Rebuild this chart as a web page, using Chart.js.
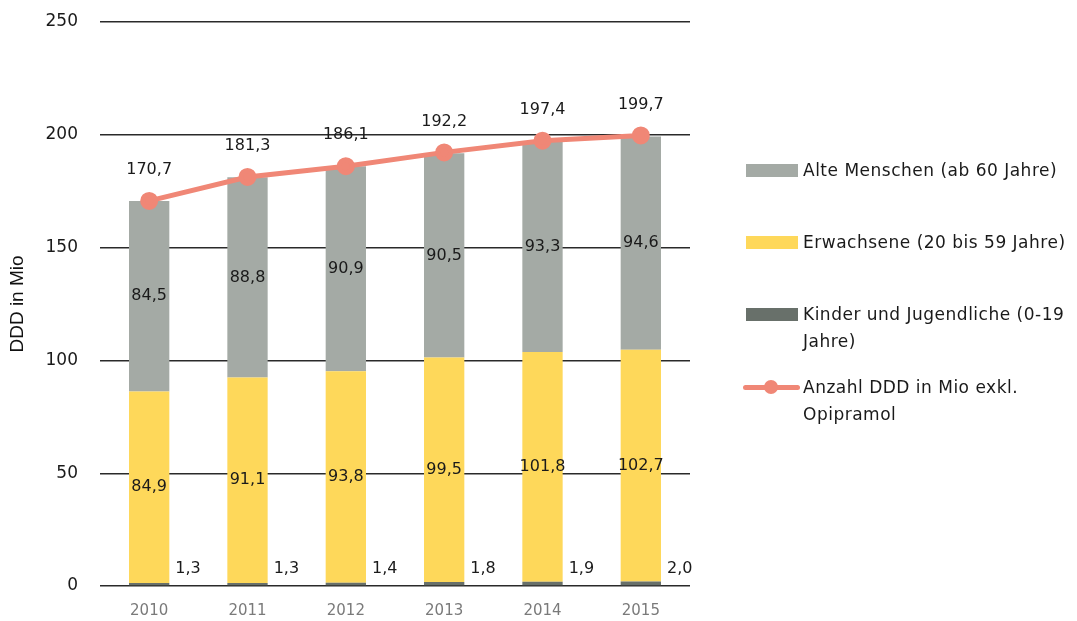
<!DOCTYPE html>
<html>
<head>
<meta charset="utf-8">
<script src="https://cdn.jsdelivr.net/npm/chart.js@4.4.1/dist/chart.umd.min.js"></script>
<style>
  html, body { margin: 0; padding: 0; background: #fff; }
  #wrap { position: relative; width: 1077px; height: 621px; }
  #legend { position: absolute; left: 0; top: 0; font-family: "DejaVu Sans", sans-serif; font-size: 17px; letter-spacing: 0.5px; color: #1a1a1a; }
  .item { position: absolute; left: 803px; line-height: 27px; white-space: nowrap; }
  .sw { position: absolute; width: 52px; height: 13px; }
</style>
</head>
<body>
<div id="wrap">
  <canvas id="chart" width="1077" height="621"></canvas>
  <div id="legend"></div>
</div>
<script>
const years = ['2010', '2011', '2012', '2013', '2014', '2015'];
const kinder = [1.3, 1.3, 1.4, 1.8, 1.9, 2.0];
const erwachsene = [84.9, 91.1, 93.8, 99.5, 101.8, 102.7];
const alte = [84.5, 88.8, 90.9, 90.5, 93.3, 94.6];
const gesamt = [170.7, 181.3, 186.1, 192.2, 197.4, 199.7];
const yTicks = [0, 50, 100, 150, 200, 250];

const C_ALTE = '#a4aaa5';
const C_ERW = '#fed85a';
const C_KIND = '#68706a';
const C_LINE = '#f08776';

const fmt = v => v.toFixed(1).replace('.', ',');

// draws the value labels
const labelPlugin = {
  id: 'labels',
  afterDatasetsDraw(chart) {
    const ctx = chart.ctx;
    ctx.save();
    ctx.font = '16px "DejaVu Sans", sans-serif';
    ctx.fillStyle = '#1a1a1a';
    ctx.textBaseline = 'middle';
    chart.data.datasets.forEach((ds, i) => {
      const meta = chart.getDatasetMeta(i);
      meta.data.forEach((el, j) => {
        const txt = fmt(ds.data[j]);
        if (ds.type === 'line') {
          ctx.textAlign = 'center';
          ctx.fillText(txt, el.x, el.y - 31);
        } else if (ds.key === 'kinder') {
          ctx.textAlign = 'left';
          ctx.fillText(txt, el.x + el.width / 2 + 6, el.base - 16);
        } else {
          ctx.textAlign = 'center';
          ctx.fillText(txt, el.x, (el.y + el.base) / 2);
        }
      });
    });
    ctx.restore();
  }
};

new Chart(document.getElementById('chart'), {
  data: {
    labels: years,
    datasets: [
      { type: 'line', label: 'Anzahl DDD in Mio exkl. Opipramol', data: gesamt, borderColor: C_LINE, backgroundColor: C_LINE,
        borderWidth: 5, pointRadius: 6.5, pointHoverRadius: 6.5, tension: 0, stack: 'line', order: 0 },
      { type: 'bar', key: 'kinder', label: 'Kinder und Jugendliche (0-19 Jahre)', data: kinder, backgroundColor: C_KIND, stack: 'a', order: 1 },
      { type: 'bar', key: 'erw', label: 'Erwachsene (20 bis 59 Jahre)', data: erwachsene, backgroundColor: C_ERW, stack: 'a', order: 1 },
      { type: 'bar', key: 'alte', label: 'Alte Menschen (ab 60 Jahre)', data: alte, backgroundColor: C_ALTE, stack: 'a', order: 1 },
    ],
  },
  options: {
    responsive: false,
    animation: false,
    datasets: { bar: { barPercentage: 0.41, categoryPercentage: 1 } },
    layout: { autoPadding: false, padding: { top: 22, right: 387, left: 0, bottom: 0 } },
    plugins: { legend: { display: false }, tooltip: { enabled: false } },
    scales: {
      x: {
        stacked: true,
        grid: { display: false },
        border: { display: false },
        ticks: { color: '#7a7a7a', font: { family: 'DejaVu Sans', size: 15 }, padding: 8 },
        afterFit: s => { s.height = 35; s.paddingLeft = 0; s.paddingRight = 0; },
      },
      y: {
        stacked: true,
        min: 0, max: 250,
        afterBuildTicks: s => { s.ticks = yTicks.map(v => ({ value: v })); },
        grid: { color: '#2a2a2a', lineWidth: 1.4, drawTicks: false },
        border: { display: false },
        ticks: { color: '#1a1a1a', font: { family: 'DejaVu Sans', size: 17 }, padding: 22 },
        title: { display: true, text: 'DDD in Mio', color: '#111', font: { family: 'Liberation Sans', size: 19 }, padding: { top: 6, bottom: 0 } },
        afterFit: s => { s.width = 100; s.paddingTop = 0; s.paddingBottom = 0; },
      },
    },
  },
  plugins: [labelPlugin],
});

// legend on the right
const legendRows = [
  { lines: ['Alte Menschen (ab 60 Jahre)'], color: C_ALTE, y: 170 },
  { lines: ['Erwachsene (20 bis 59 Jahre)'], color: C_ERW, y: 242 },
  { lines: ['Kinder und Jugendliche (0-19', 'Jahre)'], color: C_KIND, y: 314 },
  { lines: ['Anzahl DDD in Mio exkl.', 'Opipramol'], color: C_LINE, y: 387, line: true },
];
const leg = document.getElementById('legend');
legendRows.forEach(r => {
  if (r.line) {
    leg.insertAdjacentHTML('beforeend',
      `<div class="sw" style="left:743px;top:${r.y - 2.5}px;width:57px;height:5px;background:${r.color};border-radius:3px"></div>` +
      `<div class="sw" style="left:764px;top:${r.y - 7}px;width:14px;height:14px;border-radius:7px;background:${r.color}"></div>`);
  } else {
    leg.insertAdjacentHTML('beforeend',
      `<div class="sw" style="left:746px;top:${r.y - 6.5}px;background:${r.color}"></div>`);
  }
  leg.insertAdjacentHTML('beforeend',
    `<div class="item" style="top:${r.y - 13.5}px">${r.lines.join('<br>')}</div>`);
});
</script>
</body>
</html>
